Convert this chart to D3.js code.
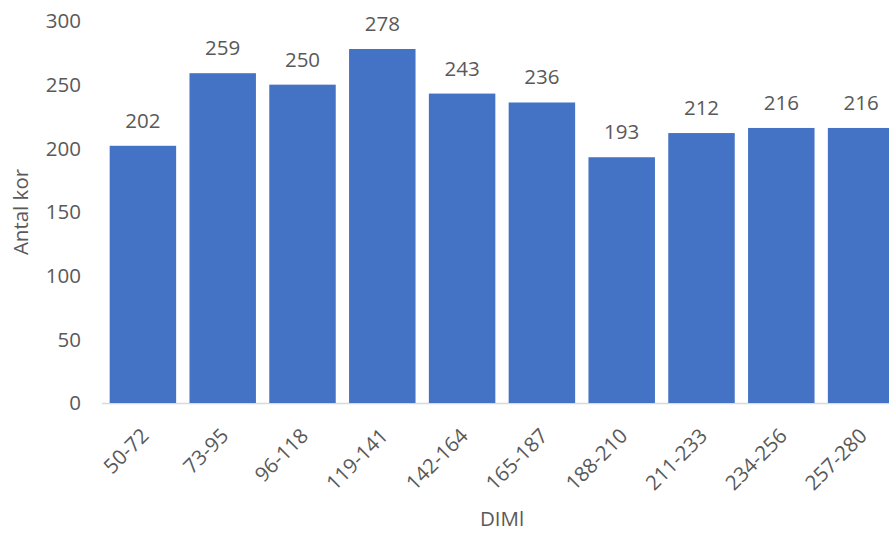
<!DOCTYPE html>
<html><head><meta charset="utf-8">
<script src="https://cdn.jsdelivr.net/npm/d3@7"></script>
<style>body{margin:0;background:#fff;overflow:hidden}text{font-family:"Open Sans",sans-serif;fill:#595959}</style>
</head><body>
<svg id="c" width="889" height="536"></svg>
<script>
const categories = ["50-72","73-95","96-118","119-141","142-164","165-187","188-210","211-233","234-256","257-280"];
const values = [202,259,250,278,243,236,193,212,216,216];
const yTicks = [0,50,100,150,200,250,300];
const xTitle = "DIMl";
const yTitle = "Antal kor";

const svg = d3.select("#c");
const x = d3.scaleBand().domain(categories).range([103, 901]).paddingInner(0.167).paddingOuter(0.0835);
const y = d3.scaleLinear().domain([0, 300]).range([403, 21]);

svg.append("line").attr("x1", 102).attr("x2", 889).attr("y1", y(0)+0.5).attr("y2", y(0)+0.5)
  .attr("stroke", "#d9d9d9").attr("stroke-width", 1.5);

svg.append("g").selectAll("text").data(yTicks).join("text")
  .attr("x", 81).attr("y", d => y(d)).attr("dy", "0.35em").attr("text-anchor", "end")
  .style("font-size", "20.5px").text(d => d);

svg.append("g").selectAll("rect").data(values).join("rect")
  .attr("x", (d,i) => x(categories[i])).attr("width", x.bandwidth())
  .attr("y", d => y(d)).attr("height", d => y(0) - y(d)).attr("fill", "#4472C4");

svg.append("g").selectAll("text").data(values).join("text")
  .attr("x", (d,i) => x(categories[i]) + x.bandwidth()/2).attr("y", d => y(d) - 18)
  .attr("text-anchor", "middle").style("font-size", "20.5px").text(d => d);

svg.append("g").selectAll("text").data(categories).join("text")
  .attr("transform", d => `translate(${x(d) + x.bandwidth()/2 + 2},${432}) rotate(-45)`)
  .attr("text-anchor", "end").attr("dy", "0.35em").style("font-size", "20.5px").text(d => d);

svg.append("text").attr("x", 502).attr("y", 519).attr("dy", "0.35em").attr("text-anchor", "middle")
  .style("font-size", "20.5px").text(xTitle);
svg.append("text").attr("transform", "translate(21,212) rotate(-90)").attr("dy", "0.35em")
  .attr("text-anchor", "middle").style("font-size", "20.5px").text(yTitle);
</script>
</body></html>
